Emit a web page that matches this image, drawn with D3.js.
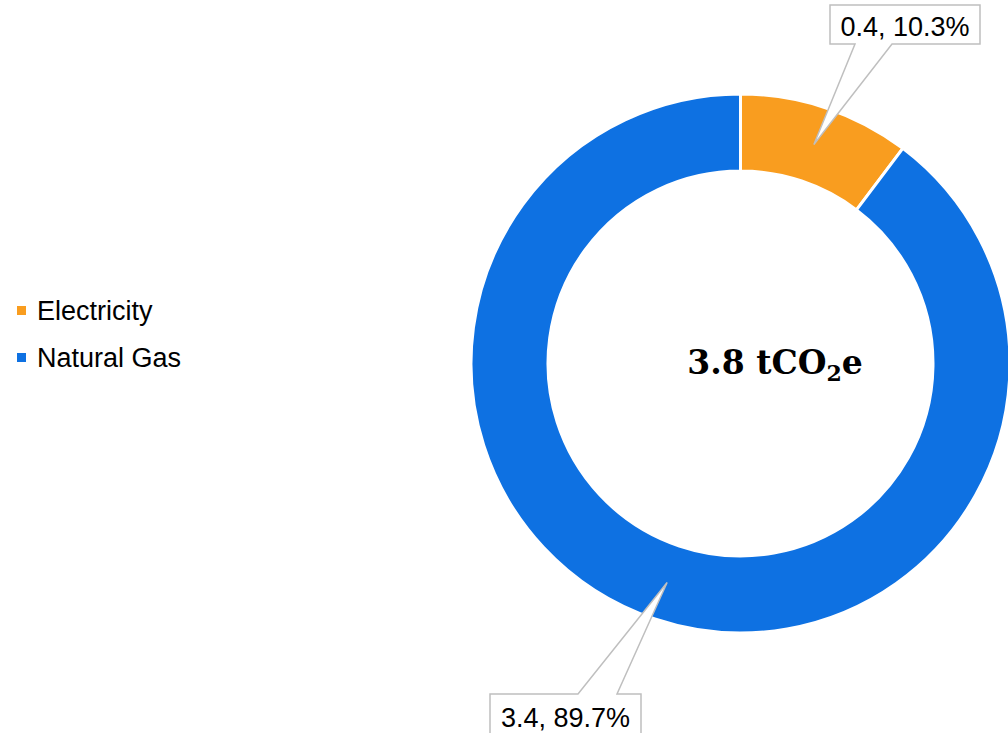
<!DOCTYPE html>
<html>
<head>
<meta charset="utf-8">
<script src="https://cdn.jsdelivr.net/npm/d3@7"></script>
<style>
  body { margin: 0; background: #fff; }
  svg { display: block; }
</style>
</head>
<body>
<svg id="chart" width="1008" height="733"></svg>
<script>
var categories = ["Electricity", "Natural Gas"];
var values = [0.39, 3.40];
var colors = ["#F99D1F", "#0E71E2"];
var unitLabel = "tCO";

var svg = d3.select("#chart"),
    width = +svg.attr("width"),
    height = +svg.attr("height");

var cx = 740.5, cy = 363.5,
    outerR = 269.5, innerR = 192.5;

var total = d3.sum(values);

var pie = d3.pie().sort(null).value(function(d) { return d; });
var arc = d3.arc().innerRadius(innerR).outerRadius(outerR);
var arcs = pie(values);

var g = svg.append("g").attr("transform", "translate(" + cx + "," + cy + ")");

g.selectAll("path.slice")
  .data(arcs)
  .enter().append("path")
  .attr("class", "slice")
  .attr("d", arc)
  .attr("fill", function(d, i) { return colors[i]; })
  .attr("stroke", "#fff")
  .attr("stroke-width", 3);

// callout boxes (box position, wedge base) - tip goes to the slice centroid
var callouts = [
  { box: [830, 5, 980, 44], side: "bottom", base: [855, 892], base_y: 36 },
  { box: [490, 694, 641, 760], side: "top", base: [578, 617], base_y: 727 }
];

arcs.forEach(function(a, i) {
  var c = arc.centroid(a);
  var tx = cx + c[0], ty = cy + c[1];
  var b = callouts[i].box, w = callouts[i].base;
  var p = d3.path();
  if (callouts[i].side == "bottom") {
    p.moveTo(b[0], b[1]);
    p.lineTo(b[2], b[1]);
    p.lineTo(b[2], b[3]);
    p.lineTo(w[1], b[3]);
    p.lineTo(tx, ty);
    p.lineTo(w[0], b[3]);
    p.lineTo(b[0], b[3]);
  } else {
    p.moveTo(b[0], b[1]);
    p.lineTo(w[0], b[1]);
    p.lineTo(tx, ty);
    p.lineTo(w[1], b[1]);
    p.lineTo(b[2], b[1]);
    p.lineTo(b[2], b[3]);
    p.lineTo(b[0], b[3]);
  }
  p.closePath();
  svg.append("path")
     .attr("d", p.toString())
     .attr("fill", "#fff")
     .attr("stroke", "#bfbfbf")
     .attr("stroke-width", 1.5);

  svg.append("text")
     .attr("x", (b[0] + b[2]) / 2)
     .attr("y", callouts[i].base_y)
     .attr("text-anchor", "middle")
     .style("font-family", "'Liberation Sans', Arial, sans-serif")
     .style("font-size", "27px")
     .style("fill", "#000")
     .text(d3.format(".1f")(values[i]) + ", " + d3.format(".1%")(values[i] / total));
});

// centre total
var center = svg.append("text")
  .attr("x", 775)
  .attr("y", 374)
  .attr("text-anchor", "middle")
  .style("font-family", "Georgia, 'DejaVu Serif', serif")
  .style("font-weight", "bold")
  .style("font-size", "33px")
  .style("fill", "#000");
center.append("tspan").text(d3.format(".1f")(total) + " " + unitLabel);
center.append("tspan").attr("dy", 7).style("font-size", "22px").text("2");
center.append("tspan").attr("dy", -7).text("e");

// legend
var legend = svg.append("g").selectAll("g")
  .data(categories)
  .enter().append("g")
  .attr("transform", function(d, i) { return "translate(17," + (306 + i * 47) + ")"; });

legend.append("rect")
  .attr("width", 9)
  .attr("height", 9)
  .attr("fill", function(d, i) { return colors[i]; });

legend.append("text")
  .attr("x", 20)
  .attr("y", 14)
  .style("font-family", "'Liberation Sans', Arial, sans-serif")
  .style("font-size", "27px")
  .style("fill", "#000")
  .text(function(d) { return d; });
</script>
</body>
</html>
